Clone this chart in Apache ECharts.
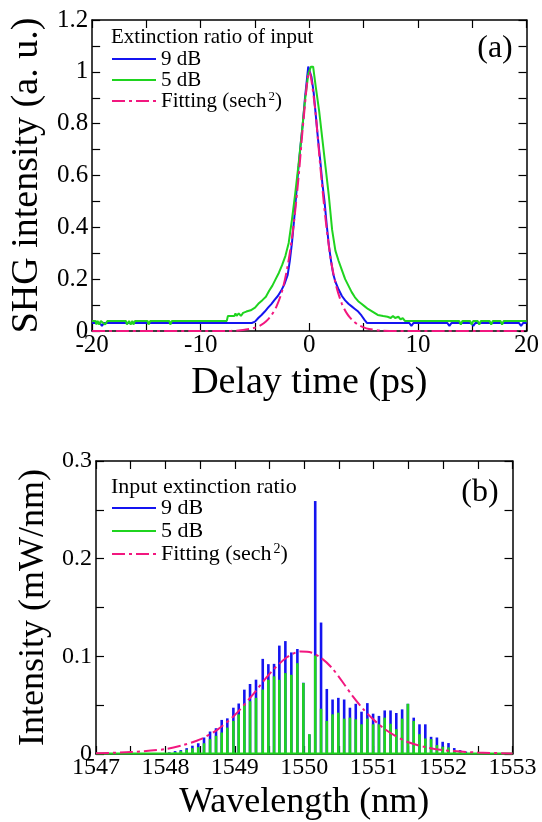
<!DOCTYPE html>
<html>
<head>
<meta charset="utf-8">
<script src="https://cdn.jsdelivr.net/npm/echarts@6/dist/echarts.min.js"></script>
<style>
html,body{margin:0;padding:0;background:#fff;}
#chart{width:542px;height:822px;}
</style>
</head>
<body>
<div id="chart"></div>
<script>
// ---------- Panel (a): SHG autocorrelation, delay time (ps) vs intensity (a.u.) ----------
const delayTicks = [-20, -10, 0, 10, 20];
const shgTicks = [0, 0.2, 0.4, 0.6, 0.8, 1, 1.2];

const shg9dB = [[-20,0.031],[-19.3,0.031],[-19.1,0.02],[-18.9,0.031],[-5.3,0.031],[-5.0,0.036],[-4.7,0.05],[-4.4,0.062],[-4.1,0.075],[-3.8,0.09],[-3.5,0.104],[-3.2,0.12],[-2.9,0.135],[-2.6,0.155],[-2.3,0.18],[-2.0,0.215],[-1.8,0.27],[-1.6,0.34],[-1.4,0.43],[-1.2,0.53],[-1.0,0.63],[-0.8,0.72],[-0.6,0.8],[-0.4,0.9],[-0.2,0.98],[-0.1,1.02],[0.05,1.0],[0.2,0.98],[0.4,0.92],[0.6,0.83],[0.8,0.74],[1.0,0.66],[1.2,0.57],[1.4,0.5],[1.6,0.41],[1.8,0.33],[2.0,0.27],[2.2,0.22],[2.4,0.19],[2.7,0.16],[3.0,0.135],[3.3,0.118],[3.6,0.105],[3.9,0.095],[4.2,0.085],[4.5,0.075],[4.8,0.06],[5.1,0.042],[5.3,0.031],[9.2,0.031],[9.4,0.02],[9.6,0.031],[12.7,0.031],[12.9,0.02],[13.1,0.031],[14.9,0.031],[15.1,0.02],[15.3,0.031],[19.3,0.031],[19.5,0.02],[19.7,0.031],[20,0.031]];

const shg5dB = [[-20,0.039],[-19.7,0.039],[-19.6,0.025],[-19.5,0.039],[-19.35,0.025],[-19.2,0.039],[-18.8,0.025],[-18.6,0.039],[-16.9,0.039],[-16.8,0.025],[-16.6,0.039],[-16.45,0.025],[-16.3,0.039],[-16.2,0.025],[-16.05,0.039],[-14.9,0.039],[-14.8,0.025],[-14.65,0.039],[-12.9,0.039],[-12.8,0.025],[-12.65,0.039],[-7.6,0.039],[-7.5,0.058],[-6.9,0.058],[-6.8,0.068],[-6.7,0.058],[-6.5,0.068],[-6.3,0.058],[-6.1,0.07],[-5.8,0.075],[-5.4,0.08],[-5.0,0.09],[-4.7,0.105],[-4.3,0.12],[-4.0,0.132],[-3.7,0.155],[-3.4,0.175],[-3.1,0.2],[-2.8,0.225],[-2.5,0.255],[-2.2,0.29],[-1.9,0.34],[-1.6,0.43],[-1.3,0.53],[-1.0,0.64],[-0.7,0.76],[-0.4,0.89],[-0.1,0.99],[0.15,1.02],[0.35,1.02],[0.6,0.94],[0.9,0.85],[1.2,0.74],[1.5,0.63],[1.8,0.52],[2.1,0.39],[2.4,0.31],[2.7,0.27],[3.0,0.235],[3.3,0.2],[3.6,0.175],[3.9,0.15],[4.2,0.13],[4.5,0.115],[4.8,0.105],[5.1,0.095],[5.4,0.085],[5.7,0.078],[6.0,0.07],[6.3,0.062],[6.8,0.058],[7.2,0.055],[7.5,0.05],[7.7,0.058],[7.9,0.05],[8.2,0.055],[8.4,0.045],[8.6,0.05],[8.8,0.039],[13.8,0.039],[13.95,0.025],[14.1,0.039],[14.8,0.039],[14.95,0.025],[15.1,0.039],[15.5,0.039],[15.65,0.025],[15.8,0.039],[16.6,0.039],[16.75,0.025],[16.9,0.039],[17.6,0.039],[17.75,0.025],[17.9,0.039],[20,0.039]];

const shgFit = [[-20,0],[-8,0],[-6.5,0.002],[-5.5,0.008],[-5,0.013],[-4.5,0.022],[-4,0.037],[-3.5,0.06],[-3,0.097],[-2.5,0.155],[-2,0.25],[-1.5,0.39],[-1,0.59],[-0.5,0.83],[0,1.0],[0.5,0.87],[1,0.64],[1.5,0.43],[2,0.27],[2.5,0.17],[3,0.105],[3.5,0.065],[4,0.04],[4.5,0.024],[5,0.014],[5.5,0.008],[6.5,0.002],[8,0],[20,0]];

// ---------- Panel (b): optical spectrum, wavelength (nm) vs intensity (mW/nm) ----------
const wlTicks = [1547, 1548, 1549, 1550, 1551, 1552, 1553];
const specTicks = [0, 0.1, 0.2, 0.3];

const combWavelength = [1547.805,1547.888,1547.972,1548.055,1548.139,1548.222,1548.306,1548.389,1548.473,1548.556,1548.643,1548.729,1548.811,1548.892,1548.979,1549.056,1549.137,1549.219,1549.305,1549.402,1549.483,1549.565,1549.641,1549.728,1549.814,1549.901,1549.987,1550.074,1550.158,1550.242,1550.325,1550.408,1550.491,1550.575,1550.658,1550.742,1550.825,1550.909,1550.992,1551.076,1551.159,1551.243,1551.326,1551.41,1551.493,1551.577,1551.66,1551.744,1551.827,1551.911,1551.994,1552.078,1552.161,1552.245,1552.328,1552.412,1552.495];

const spec9dB = [0.0005,0.0008,0.001,0.0017,0.003,0.004,0.006,0.0085,0.011,0.0169,0.023,0.0264,0.0349,0.0365,0.0474,0.0517,0.0659,0.0717,0.0761,0.0974,0.092,0.0923,0.111,0.1156,0.104,0.1075,0.073,0.02,0.259,0.1346,0.0666,0.0558,0.0575,0.0558,0.0474,0.0514,0.0433,0.0521,0.0413,0.039,0.0446,0.0446,0.042,0.0457,0.0514,0.0372,0.0304,0.0304,0.0176,0.0169,0.0125,0.0112,0.0061,0.004,0.0025,0.0015,0.0008];

const spec5dB = [0.0003,0.0005,0.0008,0.0012,0.002,0.003,0.0045,0.006,0.007,0.011,0.0152,0.0186,0.022,0.027,0.0339,0.0406,0.0507,0.054,0.0575,0.066,0.076,0.0795,0.076,0.0829,0.0811,0.093,0.0727,0.0203,0.1008,0.0463,0.0339,0.0406,0.0423,0.0362,0.0372,0.0355,0.0304,0.0362,0.0304,0.0304,0.0372,0.031,0.0254,0.0362,0.0514,0.0339,0.0203,0.0159,0.0152,0.0091,0.0075,0.0068,0.004,0.0025,0.0012,0.0008,0.0004];

const spec5dBFloor = [[1547,0.0006],[1553,0.0006]];

const specFit = [[1547.0,0.0007],[1547.5,0.002],[1548.0,0.005],[1548.25,0.009],[1548.5,0.015],[1548.75,0.025],[1549.0,0.04],[1549.25,0.06],[1549.5,0.082],[1549.75,0.099],[1549.95,0.105],[1550.1,0.104],[1550.25,0.098],[1550.4,0.088],[1550.55,0.074],[1550.7,0.059],[1550.85,0.046],[1551.0,0.035],[1551.15,0.026],[1551.3,0.019],[1551.5,0.012],[1551.75,0.007],[1552.0,0.004],[1552.5,0.0015],[1553.0,0.0006]];

// ---------- styling ----------
const FONT = 'Liberation Serif';
const CFONT = '"Liberation Serif"';
const BLUE = '#1414f0';
const GREEN = '#1fd41f';
const PINK = '#f2177f';
const DASHDOT = [13, 4, 3, 4];

function isTick(v, list) { return list.some(t => Math.abs(t - v) < 1e-6); }

function axisBase(extra) {
  return Object.assign({
    axisLine: { show: true, onZero: false, lineStyle: { color: '#000', width: 1.5 } },
    axisTick: { show: true, inside: true, length: 8, lineStyle: { color: '#000', width: 1.2 } },
    splitLine: { show: false },
    minorTick: { show: false }
  }, extra);
}

const chart = echarts.init(document.getElementById('chart'), null, { renderer: 'canvas' });

const legendCommon = {
  orient: 'vertical', itemWidth: 44, itemHeight: 14, itemGap: 0, padding: 0,
  selectedMode: false, data: ['9 dB', '5 dB', 'Fitting (sech2)'],
  itemStyle: { opacity: 0 },
  formatter: n => n === 'Fitting (sech2)' ? 'Fitting (sech{sup|2})' : n
};

const option = {
  backgroundColor: '#fff',
  animation: false,
  grid: [
    { left: 92, top: 20, width: 436, height: 311, show: false },
    { left: 96, top: 461, width: 416.5, height: 296, show: false }
  ],
  xAxis: [
    axisBase({ gridIndex: 0, type: 'value', min: -20, max: 20, interval: 5, position: 'bottom',
      name: 'Delay time (ps)', nameLocation: 'middle', nameGap: 33,
      nameTextStyle: { fontFamily: FONT, fontSize: 38, color: '#000' },
      axisLabel: { fontFamily: FONT, fontSize: 25, color: '#000', margin: 2,
        formatter: v => isTick(v, delayTicks) ? String(Math.round(v)) : '' } }),
    axisBase({ gridIndex: 0, type: 'value', min: -20, max: 20, interval: 5, position: 'top',
      axisLabel: { show: false } }),
    axisBase({ gridIndex: 1, type: 'value', min: 1547, max: 1553, interval: 0.5, position: 'bottom',
      name: 'Wavelength (nm)', nameLocation: 'middle', nameGap: 31,
      nameTextStyle: { fontFamily: FONT, fontSize: 36, color: '#000' },
      axisLabel: { fontFamily: FONT, fontSize: 24, color: '#000', margin: 2,
        formatter: v => isTick(v, wlTicks) ? String(Math.round(v)) : '' } }),
    axisBase({ gridIndex: 1, type: 'value', min: 1547, max: 1553, interval: 0.5, position: 'top',
      axisLabel: { show: false } })
  ],
  yAxis: [
    axisBase({ gridIndex: 0, type: 'value', min: 0, max: 1.2, interval: 0.1, position: 'left',
      name: 'SHG intensity (a. u.)', nameLocation: 'middle', nameGap: 44,
      nameTextStyle: { fontFamily: FONT, fontSize: 38, color: '#000' },
      axisLabel: { fontFamily: FONT, fontSize: 25, color: '#000', margin: 4,
        formatter: v => isTick(v, shgTicks) ? String(parseFloat(v.toFixed(1))) : '' } }),
    axisBase({ gridIndex: 0, type: 'value', min: 0, max: 1.2, interval: 0.1, position: 'right',
      axisLabel: { show: false } }),
    axisBase({ gridIndex: 1, type: 'value', min: 0, max: 0.3, interval: 0.05, position: 'left',
      name: 'Intensity (mW/nm)', nameLocation: 'middle', nameGap: 38,
      nameTextStyle: { fontFamily: FONT, fontSize: 36, color: '#000' },
      axisLabel: { fontFamily: FONT, fontSize: 24, color: '#000', margin: 4,
        formatter: v => isTick(v, specTicks) ? String(parseFloat(v.toFixed(2))) : '' } }),
    axisBase({ gridIndex: 1, type: 'value', min: 0, max: 0.3, interval: 0.05, position: 'right',
      axisLabel: { show: false } })
  ],
  legend: [
    Object.assign({}, legendCommon, { left: 111, top: 48.5,
      textStyle: { fontFamily: FONT, fontSize: 21, color: '#000', lineHeight: 21,
        rich: { sup: { fontFamily: FONT, fontSize: 13, verticalAlign: 'top', lineHeight: 21, padding: [0, 0, 0, 2] } } } }),
    Object.assign({}, legendCommon, { left: 111, top: 496.5,
      textStyle: { fontFamily: FONT, fontSize: 22, color: '#000', lineHeight: 23,
        rich: { sup: { fontFamily: FONT, fontSize: 14, verticalAlign: 'top', lineHeight: 23, padding: [0, 0, 0, 2] } } } })
  ],
  graphic: [
    { type: 'text', x: 111, y: 37, style: { text: 'Extinction ratio of input', font: '21px ' + CFONT, fill: '#000', verticalAlign: 'middle' } },
    { type: 'text', x: 495, y: 49, style: { text: '(a)', font: '32px ' + CFONT, fill: '#000', align: 'center', verticalAlign: 'middle' } },
    { type: 'text', x: 111, y: 487, style: { text: 'Input extinction ratio', font: '22px ' + CFONT, fill: '#000', verticalAlign: 'middle' } },
    { type: 'text', x: 480, y: 493, style: { text: '(b)', font: '32px ' + CFONT, fill: '#000', align: 'center', verticalAlign: 'middle' } }
  ],
  series: [
    { name: '9 dB', type: 'line', xAxisIndex: 0, yAxisIndex: 0, data: shg9dB, symbol: 'none',
      lineStyle: { color: BLUE, width: 2 }, itemStyle: { color: BLUE }, z: 3 },
    { name: '5 dB', type: 'line', xAxisIndex: 0, yAxisIndex: 0, data: shg5dB, symbol: 'none',
      lineStyle: { color: GREEN, width: 2 }, itemStyle: { color: GREEN }, z: 4 },
    { name: 'Fitting (sech2)', type: 'line', xAxisIndex: 0, yAxisIndex: 0, data: shgFit, symbol: 'none', smooth: 0.3,
      lineStyle: { color: PINK, width: 2, type: DASHDOT }, itemStyle: { color: PINK }, z: 5 },

    { name: '9 dB', type: 'bar', xAxisIndex: 2, yAxisIndex: 2,
      data: combWavelength.map((w, i) => [w, spec9dB[i]]), barWidth: 2.6, barGap: '-100%',
      itemStyle: { color: BLUE }, z: 3 },
    { name: '5 dB', type: 'bar', xAxisIndex: 2, yAxisIndex: 2,
      data: combWavelength.map((w, i) => [w, spec5dB[i]]), barWidth: 2.6, barGap: '-100%',
      itemStyle: { color: GREEN }, z: 4 },
    { name: '5 dB', type: 'line', xAxisIndex: 2, yAxisIndex: 2, data: spec5dBFloor, symbol: 'none',
      lineStyle: { color: GREEN, width: 2 }, z: 4 },
    { name: 'Fitting (sech2)', type: 'line', xAxisIndex: 2, yAxisIndex: 2, data: specFit, symbol: 'none', smooth: 0.3,
      lineStyle: { color: PINK, width: 2, type: DASHDOT }, itemStyle: { color: PINK }, z: 5 }
  ]
};

chart.setOption(option);
</script>
</body>
</html>
